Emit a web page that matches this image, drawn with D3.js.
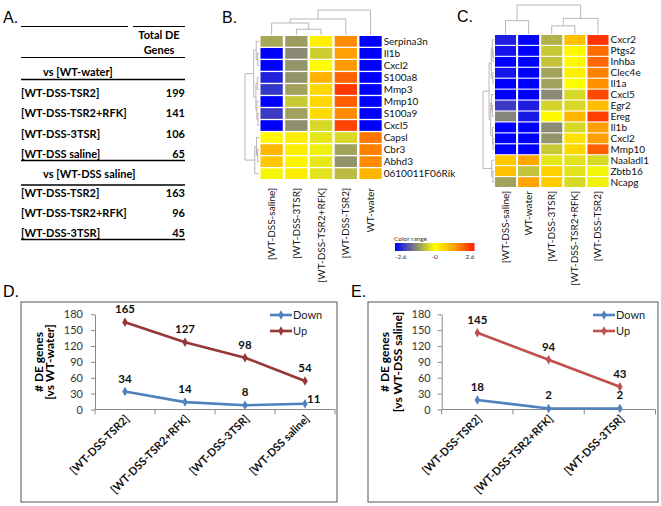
<!DOCTYPE html>
<html><head><meta charset="utf-8">
<script src="https://cdn.jsdelivr.net/npm/d3@7"></script>
<style>body{margin:0;background:#fff} svg{display:block} text{font-family:Lato,"Open Sans",sans-serif}</style>
</head><body>
<svg id="c" width="661" height="506"></svg>
<script>
// ---------- Panel A ----------
const tableHeader = ["Total DE", "Genes"];
const groupTitles = ["vs [WT-water]", "vs [WT-DSS saline]"];
const vsWaterNames = ["[WT-DSS-TSR2]", "[WT-DSS-TSR2+RFK]", "[WT-DSS-3TSR]", "[WT-DSS saline]"];
const vsWaterTotals = [199, 141, 106, 65];
const vsSalineNames = ["[WT-DSS-TSR2]", "[WT-DSS-TSR2+RFK]", "[WT-DSS-3TSR]"];
const vsSalineTotals = [163, 96, 45];

// ---------- Panel B ----------
const bSamples = ["[WT-DSS-saline]", "[WT-DSS-3TSR]", "[WT-DSS-TSR2+RFK]", "[WT-DSS-TSR2]", "WT-water"];
const bGenes = ["Serpina3n","Il1b","Cxcl2","S100a8","Mmp3","Mmp10","S100a9","Cxcl5","Capsl","Cbr3","Abhd3","0610011F06Rik"];
const bValues = [
  [-0.9, -1.0, 0.2, 1.5, -2.6],
  [-2.6, -1.2, -0.5, 1.3, -2.6],
  [-2.6, -1.1, 0.05, 1.35, -2.6],
  [-2.25, -1.1, 1.05, 1.9, -2.6],
  [-2.05, -0.95, 0.55, 2.3, -2.6],
  [-2.6, -0.55, 0.55, 1.95, -2.6],
  [-2.0, -0.95, 0.5, 1.5, -2.6],
  [-2.6, -1.15, -0.4, 2.2, -2.6],
  [0.1, 0.25, -0.25, -0.4, 1.7],
  [1.0, 0.25, -0.15, -0.95, 1.6],
  [0.75, 0.15, -0.25, -1.1, 1.5],
  [-0.1, 0.25, -0.3, -0.7, 1.0]
];
const bColTree = [[[0, [1, 2, 0.23], 0.48], 3, 0.64], 4, 1.0];
const bRowTree = [[[0, [1, 2, 0.1], 0.2], [[3, 4, 0.12], [5, [6, 7, 0.08], 0.15], 0.22], 0.38],
                  [[8, [9, 10, 0.1], 0.18], 11, 0.3], 1.0];

// ---------- Panel C ----------
const cSamples = ["[WT-DSS-saline]", "WT-water", "[WT-DSS-3TSR]", "[WT-DSS-TSR2+RFK]", "[WT-DSS-TSR2]"];
const cGenes = ["Cxcr2","Ptgs2","Inhba","Clec4e","Il1a","Cxcl5","Egr2","Ereg","Il1b","Cxcl2","Mmp10","Naaladl1","Zbtb16","Ncapg"];
const cValues = [
  [-2.3, -2.55, -0.8, 0.87, 2.35],
  [-2.4, -2.6, -0.55, 0.1, 1.8],
  [-2.6, -2.6, -0.6, 0.1, 1.85],
  [-2.4, -2.6, -0.95, 0.2, 1.6],
  [-2.6, -2.6, -0.95, 0.0, 1.45],
  [-2.6, -2.6, -1.2, -0.4, 2.15],
  [-2.0, -2.3, -0.45, -0.4, 0.87],
  [-1.25, -2.35, 0.1, 1.0, 2.25],
  [-2.6, -2.6, -1.2, -0.4, 1.3],
  [-2.6, -2.6, -1.1, 0.4, 1.3],
  [-2.6, -2.6, -0.55, 0.55, 1.95],
  [0.75, 1.2, -0.25, -0.3, -0.4],
  [0.85, -0.6, 0.6, -0.3, -0.1],
  [-0.95, 1.25, 0.7, -0.4, -0.15]
];
const cColTree = [[0, 1, 0.46], [[2, 3, 0.28], 4, 0.54], 1.0];
const cRowTree = [[[[0, [1, 2, 0.08], 0.15], [3, 4, 0.1], 0.25], [[5, [6, 7, 0.15], 0.22], [8, [9, 10, 0.08], 0.14], 0.3], 0.45],
                  [11, [12, 13, 0.1], 0.2], 1.0];

// colour scale
const colorStops = [-2.6, -1.25, 0, 1.3, 2.6];
const colorRange = ["#0000ff", "#85857a", "#ffff00", "#ffa000", "#ff1a00"];
const colorTicks = ["-2.6", "-0", "2.6"];

// ---------- Panels D / E ----------
const dCats = ["[WT-DSS-TSR2]", "[WT-DSS-TSR2+RFK]", "[WT-DSS-3TSR]", "[WT-DSS saline]"];
const dDown = [34, 14, 8, 11];
const dUp = [165, 127, 98, 54];
const eCats = ["[WT-DSS-TSR2]", "[WT-DSS-TSR2+RFK]", "[WT-DSS-3TSR]"];
const eDown = [18, 2, 2];
const eUp = [145, 94, 43];
const yTicks = [0, 30, 60, 90, 120, 150, 180];
const seriesNames = ["Down", "Up"];

const svg = d3.select("#c");
const color = d3.scaleLinear().domain(colorStops).range(colorRange).clamp(true);

// panel letters
[["A.", 3, 23], ["B.", 222, 23], ["C.", 457, 22], ["D.", 3, 297], ["E.", 351, 297]].forEach(([t, x, y]) =>
  svg.append("text").attr("x", x).attr("y", y).text(t)
    .style("font-family", "'Liberation Sans',Arial,sans-serif").style("font-size", "16px"));

// ---------- Table A ----------
(function () {
  const g = svg.append("g").style("font-size", "11px").style("font-weight", "bold");
  const L = 21, R = 185;
  const hline = (x1, x2, y, w) => g.append("line").attr("x1", x1).attr("x2", x2).attr("y1", y).attr("y2", y)
    .attr("stroke", "#000").attr("stroke-width", w || 1.2);
  hline(L, 128, 26.5); hline(133, R, 26.5);
  g.append("text").attr("x", 159).attr("y", 39).attr("text-anchor", "middle").text(tableHeader[0]);
  g.append("text").attr("x", 159).attr("y", 54).attr("text-anchor", "middle").text(tableHeader[1]);
  hline(L, R, 57.5);
  g.append("text").attr("x", 43).attr("y", 76).text(groupTitles[0]);
  hline(L, R, 79.5, 1.5);
  const rowY = d3.scalePoint().domain(d3.range(vsWaterNames.length)).range([97, 158]);
  vsWaterNames.forEach((n, i) => {
    g.append("text").attr("x", L).attr("y", rowY(i)).text(n);
    g.append("text").attr("x", R).attr("y", rowY(i)).attr("text-anchor", "end").text(vsWaterTotals[i]);
  });
  hline(L, R, 160.5, 1.5);
  g.append("text").attr("x", 43).attr("y", 178).text(groupTitles[1]);
  hline(L, R, 185, 1.5);
  const rowY2 = d3.scalePoint().domain(d3.range(vsSalineNames.length)).range([197, 237]);
  vsSalineNames.forEach((n, i) => {
    g.append("text").attr("x", L).attr("y", rowY2(i)).text(n);
    g.append("text").attr("x", R).attr("y", rowY2(i)).attr("text-anchor", "end").text(vsSalineTotals[i]);
  });
  hline(L, R, 239.5, 1.5);
})();

// ---------- dendrogram helper ----------
function drawTree(tree, leafPos, hPos, orient) {
  const segs = [];
  function walk(node) {
    if (typeof node === "number") return { p: leafPos(node), h: 0 };
    const [a, b, h] = node;
    const A = walk(a), B = walk(b);
    segs.push([A.p, A.h, A.p, h], [A.p, h, B.p, h], [B.p, h, B.p, B.h]);
    return { p: (A.p + B.p) / 2, h };
  }
  walk(tree);
  const path = segs.map(([p1, h1, p2, h2]) => orient === "top"
    ? `M${p1},${hPos(h1)}L${p2},${hPos(h2)}`
    : `M${hPos(h1)},${p1}L${hPos(h2)},${p2}`).join("");
  svg.append("path").attr("d", path).attr("fill", "none").attr("stroke", "#bdb3b5").attr("stroke-width", 1);
}

function heatmap(cfg) {
  const x = d3.scaleBand().domain(d3.range(cfg.samples.length)).range(cfg.xr).paddingInner(cfg.px);
  const y = d3.scaleBand().domain(d3.range(cfg.genes.length)).range(cfg.yr).paddingInner(cfg.py);
  const g = svg.append("g");
  cfg.values.forEach((row, i) => row.forEach((v, j) => {
    g.append("rect").attr("x", x(j)).attr("y", y(i)).attr("width", x.bandwidth()).attr("height", y.bandwidth())
      .attr("fill", color(v));
  }));
  cfg.genes.forEach((gname, i) => g.append("text").attr("x", cfg.xr[1] + 2).attr("y", y(i) + y.bandwidth() / 2 + 3.5)
    .text(gname).style("font-size", cfg.gfs + "px").attr("fill", "#111"));
  cfg.samples.forEach((s, j) => g.append("text")
    .attr("transform", `translate(${x(j) + x.bandwidth() / 2 + 3.5},${cfg.labY}) rotate(-90)`)
    .attr("text-anchor", "end").text(s).style("font-size", "10px").attr("fill", "#111"));
  const colH = d3.scaleLinear().domain([0, 1]).range(cfg.colHr);
  drawTree(cfg.colTree, j => x(j) + x.bandwidth() / 2, colH, "top");
  const rowH = d3.scaleLinear().domain([0, 1]).range(cfg.rowHr);
  drawTree(cfg.rowTree, i => y(i) + y.bandwidth() / 2, rowH, "left");
}

heatmap({ samples: bSamples, genes: bGenes, values: bValues, xr: [260.5, 381.7], yr: [36, 179], px: 0.1, py: 0.11,
  labY: 188, gfs: 10, colTree: bColTree, rowTree: bRowTree, colHr: [35, 10], rowHr: [259, 245] });
heatmap({ samples: cSamples, genes: cGenes, values: cValues, xr: [495, 608.5], yr: [35, 187], px: 0.09, py: 0.1,
  labY: 191, gfs: 10, colTree: cColTree, rowTree: cRowTree, colHr: [34, 5], rowHr: [494, 483] });

// colour legend
(function () {
  const defs = svg.append("defs");
  const grad = defs.append("linearGradient").attr("id", "cg");
  const pos = d3.scaleLinear().domain([-2.6, 2.6]).range([0, 100]);
  colorStops.forEach((s, i) => grad.append("stop").attr("offset", pos(s) + "%").attr("stop-color", colorRange[i]));
  const lx = d3.scaleLinear().domain([-2.6, 2.6]).range([395, 474.5]);
  svg.append("text").attr("x", 394).attr("y", 241).text("Color range").style("font-size", "6.5px").attr("fill", "#333");
  svg.append("rect").attr("x", lx(-2.6)).attr("y", 243).attr("width", lx(2.6) - lx(-2.6)).attr("height", 8).attr("fill", "url(#cg)");
  const tv = [-2.6, 0, 2.6];
  colorTicks.forEach((t, i) => svg.append("text").attr("x", lx(tv[i])).attr("y", 259)
    .attr("text-anchor", i === 0 ? "start" : (i === 1 ? "middle" : "end")).text(t)
    .style("font-size", "6.5px").attr("fill", "#333"));
})();

// ---------- line charts ----------
function lineChart(cfg) {
  svg.append("rect").attr("x", cfg.box[0]).attr("y", cfg.box[1]).attr("width", cfg.box[2] - cfg.box[0])
    .attr("height", cfg.box[3] - cfg.box[1]).attr("fill", "none").attr("stroke", "#707070").attr("stroke-width", 1.2);
  const x = d3.scaleBand().domain(cfg.cats).range(cfg.xr);
  const y = d3.scaleLinear().domain([0, 180]).range([409.5, 314.3]);
  const g = svg.append("g");
  const ya = g.append("g").attr("transform", `translate(${cfg.xr[0]},0)`)
    .call(d3.axisLeft(y).tickValues(yTicks).tickSize(4).tickSizeOuter(0).tickPadding(cfg.tp));
  ya.select(".domain").attr("stroke", "#8a8a8a");
  ya.selectAll(".tick line").attr("stroke", "#8a8a8a");
  ya.selectAll(".tick text").style("font-size", "11px").style("font-family", "Lato").attr("fill", "#333");
  g.append("line").attr("x1", cfg.xr[0]).attr("x2", cfg.xr[1]).attr("y1", y(0)).attr("y2", y(0)).attr("stroke", "#8a8a8a");
  const bounds = cfg.cats.map(c => x(c)).concat([cfg.xr[1]]);
  bounds.forEach(b => g.append("line").attr("x1", b).attr("x2", b).attr("y1", y(0)).attr("y2", y(0) + 5).attr("stroke", "#8a8a8a"));
  const cx = c => x(c) + x.bandwidth() / 2;
  cfg.cats.forEach(c => g.append("text")
    .attr("transform", `translate(${cx(c) + 5},${y(0) + 10}) rotate(-45)`)
    .attr("text-anchor", "end").text(c).style("font-size", "11px").style("font-weight", "bold").attr("fill", "#111"));
  g.append("text").attr("transform", `translate(${cfg.yt[0]},362) rotate(-90)`).attr("text-anchor", "middle")
    .text("# DE genes").style("font-size", "12px").style("font-weight", "bold");
  g.append("text").attr("transform", `translate(${cfg.yt[1]},362) rotate(-90)`).attr("text-anchor", "middle")
    .text(cfg.yTitle2).style("font-size", "12px").style("font-weight", "bold");
  const series = [cfg.down, cfg.up];
  const colors = ["#4f81bd", cfg.upColor];
  const line = d3.line().x((d, i) => cx(cfg.cats[i])).y(d => y(d));
  series.forEach((s, k) => {
    g.append("path").attr("d", line(s)).attr("fill", "none").attr("stroke", colors[k]).attr("stroke-width", 2.6);
    s.forEach((v, i) => {
      g.append("path").attr("d", d3.symbol(d3.symbolDiamond, 26)())
        .attr("transform", `translate(${cx(cfg.cats[i])},${y(v)})`).attr("fill", colors[k]);
      const right = cfg.rightLabel && cfg.rightLabel[0] === k && cfg.rightLabel[1] === i;
      g.append("text").attr("x", cx(cfg.cats[i]) + (right ? 2 : 0)).attr("y", y(v) - (right ? 1 : 9))
        .attr("text-anchor", right ? "start" : "middle").text(v)
        .style("font-size", "11.5px").style("font-weight", "bold").attr("fill", "#111");
    });
  });
  seriesNames.forEach((n, k) => {
    const ly = 315 + k * 16;
    g.append("line").attr("x1", cfg.lx).attr("x2", cfg.lx + 22).attr("y1", ly).attr("y2", ly)
      .attr("stroke", colors[k]).attr("stroke-width", 2.6);
    g.append("path").attr("d", d3.symbol(d3.symbolDiamond, 26)()).attr("transform", `translate(${cfg.lx + 11},${ly})`)
      .attr("fill", colors[k]);
    g.append("text").attr("x", cfg.lx + 23).attr("y", ly + 4).text(n).style("font-size", "11px").attr("fill", "#222");
  });
}

lineChart({ cats: dCats, down: dDown, up: dUp, upColor: "#953735", box: [21, 302, 337, 502], xr: [95, 335],
  yt: [42.5, 54], yTitle2: "[vs WT-water]", lx: 270, rightLabel: [0, 3], tp: 8 });
lineChart({ cats: eCats, down: eDown, up: eUp, upColor: "#c0504d", box: [368, 302, 658, 502], xr: [441.7, 655.5],
  yt: [389, 402], yTitle2: "[vs WT-DSS saline]", lx: 593, tp: 7 });
</script>
</body></html>
